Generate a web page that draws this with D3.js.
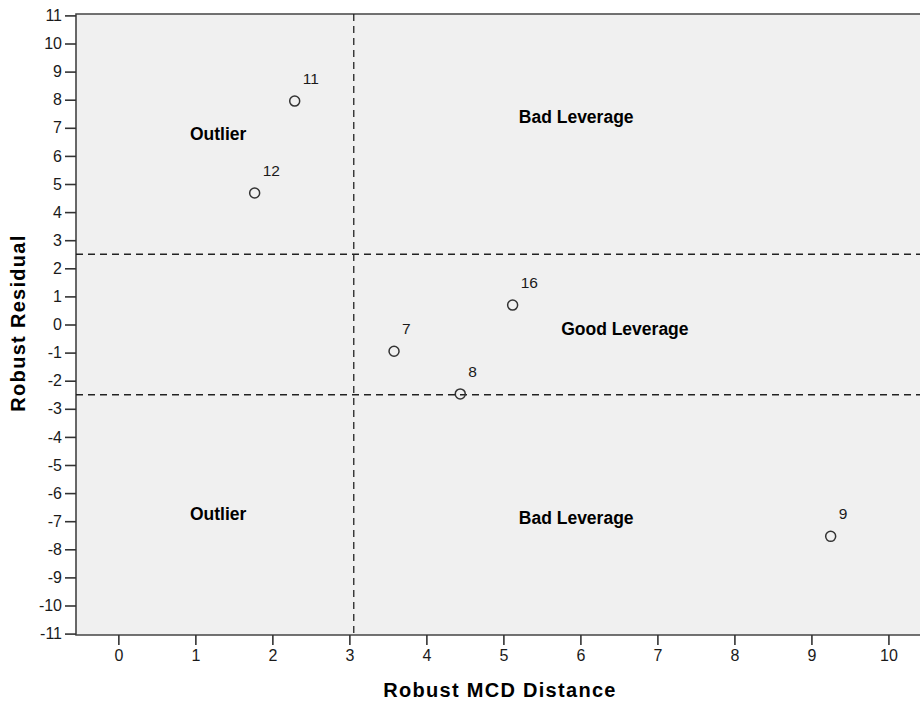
<!DOCTYPE html>
<head>
	<meta charset="utf-8">
	<title>Robust residual vs MCD distance</title>
	<style>
	body { margin: 0; background: #fff; }
	.tick text { font: 16px Arial, "Liberation Sans", sans-serif; fill: #1a1a1a; }
	.tick line { stroke: #333; stroke-width: 1.6; }
	.quad { font: bold 17.5px Arial, "Liberation Sans", sans-serif; fill: #000; }
	.ptlabel { font: 15.5px Arial, "Liberation Sans", sans-serif; fill: #1a1a1a; }
	.title { font: bold 20px Arial, "Liberation Sans", sans-serif; fill: #000; letter-spacing: 1.3px; }
	.cut { stroke: #222; stroke-width: 1.3; stroke-dasharray: 7,5; }
	</style>
</head>
<body>
<script src="https://d3js.org/d3.v7.min.js"></script>
<script>

var width = 920, height = 702

// data
var cases = ["11", "12", "16", "7", "8", "9"];
var mcdDist = [2.29, 1.77, 5.12, 3.58, 4.44, 9.25];
var residual = [7.95, 4.68, 0.69, -0.95, -2.47, -7.54];

var xTicks = [0, 1, 2, 3, 4, 5, 6, 7, 8, 9, 10];
var yTicks = d3.range(-11, 12);

// cut-off lines
var distCut = [3.057];
var resCut = [2.5, -2.5];

// region labels (baseline positions in data units)
var quadNames = ["Outlier", "Bad Leverage", "Good Leverage", "Outlier", "Bad Leverage"];
var quadX = [0.93, 5.2, 5.75, 0.93, 5.2];
var quadY = [6.55, 7.18, -0.38, -6.97, -7.09];

var pLeft = 76, pTop = 14, pRight = 920, pBottom = 635;

var x = d3.scaleLinear().domain([-0.55, 10.41]).range([pLeft, pRight]);
var y = d3.scaleLinear().domain([-11.05, 11.05]).range([pBottom, pTop]);

var fmt = function(d) { return String(d); };

var svg = d3.select("body")
	.append("svg")
	.attr("width", width)
	.attr("height", height);

svg.append("rect")
	.attr("x", pLeft).attr("y", pTop)
	.attr("width", pRight - pLeft).attr("height", pBottom - pTop)
	.attr("fill", "#f0f0f0");

// frame (no right side, it is cut off)
svg.append("path")
	.attr("d", "M" + pRight + "," + pTop + "H" + pLeft + "V" + pBottom + "H" + pRight)
	.attr("fill", "none")
	.attr("stroke", "#444")
	.attr("stroke-width", 1.6);

var xAxis = svg.append("g")
	.attr("transform", "translate(0," + pBottom + ")")
	.call(d3.axisBottom(x).tickValues(xTicks).tickSize(10).tickPadding(5).tickFormat(fmt));
xAxis.select(".domain").remove();

var yAxis = svg.append("g")
	.attr("transform", "translate(" + pLeft + ",0)")
	.call(d3.axisLeft(y).tickValues(yTicks).tickSize(11).tickPadding(3).tickFormat(fmt));
yAxis.select(".domain").remove();

svg.selectAll(".vcut")
	.data(distCut)
	.enter().append("line")
	.attr("class", "cut")
	.attr("x1", function(d) { return x(d); })
	.attr("x2", function(d) { return x(d); })
	.attr("y1", pTop)
	.attr("y2", pBottom);

svg.selectAll(".hcut")
	.data(resCut)
	.enter().append("line")
	.attr("class", "cut")
	.attr("x1", pLeft)
	.attr("x2", pRight)
	.attr("y1", function(d) { return y(d); })
	.attr("y2", function(d) { return y(d); });

svg.selectAll(".quad")
	.data(quadNames)
	.enter().append("text")
	.attr("class", "quad")
	.attr("x", function(d, i) { return x(quadX[i]); })
	.attr("y", function(d, i) { return y(quadY[i]); })
	.text(function(d) { return d; });

var pts = svg.selectAll(".pt")
	.data(cases)
	.enter().append("g")
	.attr("transform", function(d, i) { return "translate(" + x(mcdDist[i]) + "," + y(residual[i]) + ")"; });

pts.append("circle")
	.attr("r", 5)
	.attr("fill", "none")
	.attr("stroke", "#333")
	.attr("stroke-width", 1.5);

pts.append("text")
	.attr("class", "ptlabel")
	.attr("x", 8)
	.attr("y", -17)
	.text(function(d) { return d; });

svg.append("text")
	.attr("class", "title")
	.attr("x", 500)
	.attr("y", 697)
	.attr("text-anchor", "middle")
	.text("Robust MCD Distance");

svg.append("text")
	.attr("class", "title")
	.attr("transform", "translate(25,323) rotate(-90)")
	.attr("text-anchor", "middle")
	.text("Robust Residual");

</script>
